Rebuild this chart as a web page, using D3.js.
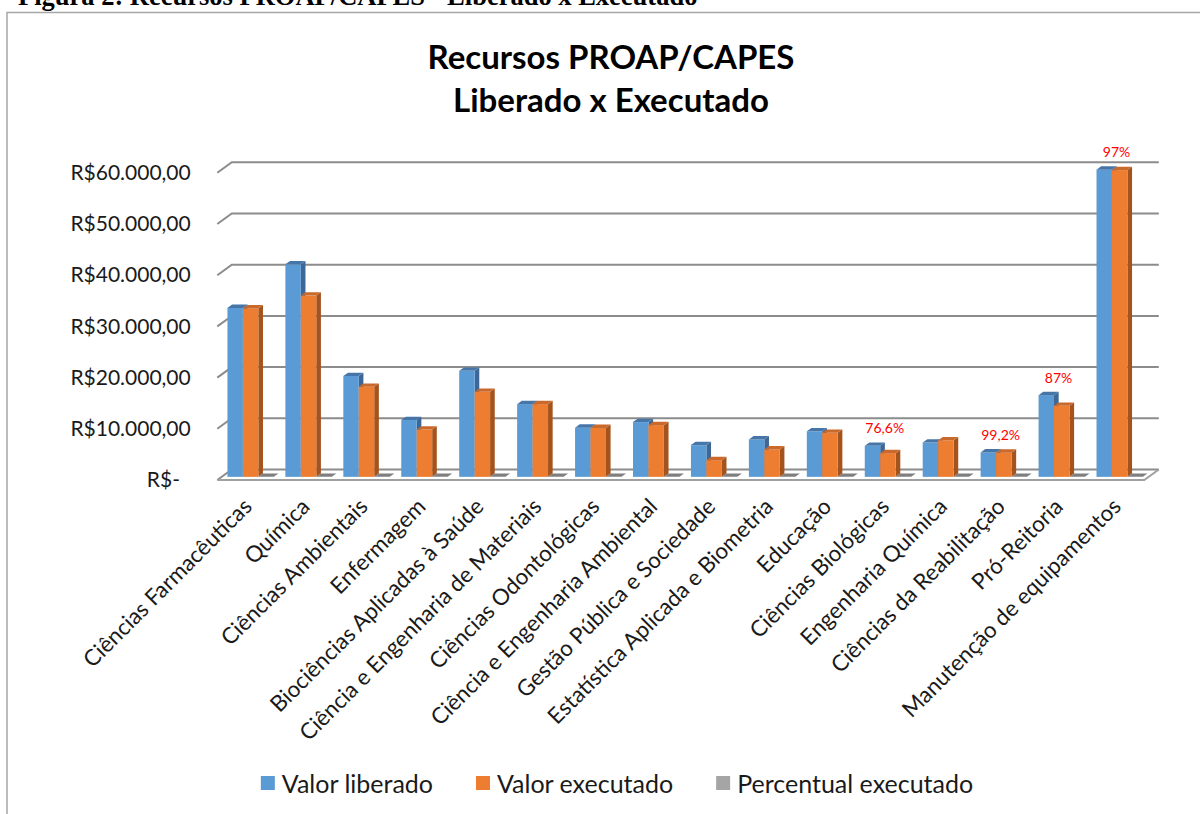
<!DOCTYPE html>
<html><head><meta charset="utf-8">
<script src="https://cdn.jsdelivr.net/npm/d3@7"></script>
<style>body{margin:0;background:#fff;overflow:hidden}</style>
</head><body><svg id="c" width="1200" height="814"></svg>
<script>
const categories = ["Ciências Farmacêuticas","Química","Ciências Ambientais","Enfermagem","Biociências Aplicadas à Saúde","Ciência e Engenharia de Materiais","Ciências Odontológicas","Ciência e Engenharia Ambiental","Gestão Pública e Sociedade","Estatística Aplicada e Biometria","Educação","Ciências Biológicas","Engenharia Química","Ciências da Reabilitação","Pró-Reitoria","Manutenção de equipamentos"];
const valorLiberado = [33000, 41500, 19700, 11100, 20700, 14200, 9600, 10700, 6200, 7300, 8900, 6050, 6700, 4760, 15960, 60000];
const valorExecutado = [32900, 35400, 17600, 9250, 16600, 14200, 9550, 10100, 3260, 5350, 8600, 4630, 7150, 4720, 13880, 59900];
const percentualExecutado = [1.0, 0.85, 0.89, 0.83, 0.80, 1.0, 1.0, 0.94, 0.53, 0.73, 0.97, 0.766, 1.07, 0.992, 0.87, 0.97];
const percentualRotulo = [null, null, null, null, null, null, null, null, null, null, null, "76,6%", null, "99,2%", "87%", "97%"];
const yTickValues = [0, 10000, 20000, 30000, 40000, 50000, 60000];
const seriesNames = ["Valor liberado", "Valor executado", "Percentual executado"];
const titleLines = ["Recursos PROAP/CAPES", "Liberado x Executado"];
const caption = "Figura 2: Recursos PROAP/CAPES - Liberado x Executado";

const svg = d3.select("#c");
const FONT = "Lato, 'Open Sans', sans-serif";
const colors = {
  front: ["#5b9bd5", "#ed7d31", "#a5a5a5"],
  top:   ["#4676a8", "#c9692c", "#7f7f7f"],
  side:  ["#3d6796", "#a4531d", "#6f6f6f"]
};

// outer frame
svg.append("path").attr("d", "M7,814 L7,12.5 L1200,12.5")
  .attr("fill", "none").attr("stroke", "#a6a6a6").attr("stroke-width", 1.5);

// caption (cut off at top, as in the source)
svg.append("text").attr("x", 18).attr("y", 5)
  .attr("font-family", "'Liberation Serif', 'Times New Roman', serif")
  .attr("font-weight", "bold").attr("font-size", 26.5).attr("fill", "#000")
  .text(caption);

// title
svg.append("g").selectAll("text").data(titleLines).join("text")
  .attr("x", 611).attr("y", (d, i) => 69 + i * 43)
  .attr("text-anchor", "middle").attr("font-family", FONT)
  .attr("font-weight", "bold").attr("font-size", 33).attr("fill", "#000")
  .text(d => d);

// geometry of the 3D plot
const floorFrontY = 480;
const DX = 14.5, DY = -10.5;
const xLeft = 217.3, xRight = 1144.3;
const x = d3.scaleBand().domain(categories).range([xLeft, xRight]);
const y = d3.scaleLinear().domain([0, 60000]).range([floorFrontY, floorFrontY - 307.2]);

// gridlines on back wall with left diagonal
const grid = svg.append("g").attr("fill", "none").attr("stroke", "#8c8c8c").attr("stroke-width", 2);
grid.selectAll("path").data(yTickValues).join("path")
  .attr("d", v => `M${xLeft},${y(v)} l${DX},${DY} L${xRight + DX},${y(v) + DY}`);
grid.append("path").attr("stroke", "#a0a0a0")
  .attr("d", `M${xLeft},${y(0)} L${xRight},${y(0)} l${DX},${DY}`);

// y axis labels
const loc = d3.formatLocale({decimal: ",", thousands: ".", grouping: [3], currency: ["R$", ""]});
const money = loc.format("$,.2f");
const yAxis = svg.append("g").attr("transform", `translate(${xLeft},0)`)
  .call(d3.axisLeft(y).tickValues(yTickValues).tickSize(0).tickPadding(26.6)
    .tickFormat(d => d === 0 ? "R$-" : money(d)));
yAxis.select(".domain").remove();
yAxis.selectAll("text").attr("font-family", FONT).attr("font-size", 21).attr("fill", "#1a1a1a")
  .attr("dx", d => d === 0 ? -10.7 : 0);

// bars
const barW = 15.45, bf = 0.3, bd = 0.32;
const ddx = DX * bd, ddy = DY * bd;
const seriesVals = [valorLiberado, valorExecutado, percentualExecutado.map(() => 0)];
const groupStart = c => x(c) + (x.bandwidth() - 3 * barW) / 2 + DX * bf;
const baseY = y(0) + DY * bf;
const topY = v => y(v) + DY * bf;

const bars = svg.append("g");
categories.forEach((c, ci) => {
  const g = bars.append("g");
  [0, 1, 2].forEach(s => {
    const v = seriesVals[s][ci];
    const bx = groupStart(c) + s * barW;
    const yt = topY(v), yb = baseY;
    g.append("path").attr("fill", colors.side[s])
      .attr("d", `M${bx + barW},${yt} l${ddx},${ddy} L${bx + barW + ddx},${yb + ddy} L${bx + barW},${yb}Z`);
    if (yb - yt > 0.1) {
      g.append("rect").attr("x", bx).attr("y", yt).attr("width", barW).attr("height", yb - yt)
        .attr("fill", colors.front[s]);
    }
    g.append("path").attr("fill", colors.top[s])
      .attr("d", `M${bx},${yt} L${bx + barW},${yt} l${ddx},${ddy} L${bx + ddx},${yt + ddy}Z`);
  });
});

// percent labels
svg.append("g").selectAll("text")
  .data(categories.map((c, i) => ({c, i, t: percentualRotulo[i]})).filter(d => d.t))
  .join("text")
  .attr("x", d => groupStart(d.c) + 20)
  .attr("y", d => topY(Math.max(valorLiberado[d.i], valorExecutado[d.i])) - 18)
  .attr("dominant-baseline", "central").attr("text-anchor", "middle")
  .attr("font-family", FONT).attr("font-size", 14).attr("fill", "#ff0000")
  .text(d => d.t);

// x labels
svg.append("g").selectAll("text").data(categories).join("text")
  .attr("transform", c => `translate(${x(c) + x.bandwidth() / 2 + 7},508) rotate(-45)`)
  .attr("text-anchor", "end").attr("font-family", FONT).attr("font-size", 22.4).attr("fill", "#1a1a1a")
  .text(c => c);

// legend
const lg = svg.append("g");
let lx = 0;
seriesNames.forEach((n, i) => {
  const it = lg.append("g");
  it.append("rect").attr("x", 0).attr("y", -7).attr("width", 14).attr("height", 14).attr("fill", colors.front[i]);
  const t = it.append("text").attr("x", 21).attr("y", 0).attr("dominant-baseline", "central")
    .attr("font-family", FONT).attr("font-size", 25).attr("fill", "#1a1a1a").text(n);
  const w = 21 + t.node().getComputedTextLength();
  it.attr("transform", `translate(${lx},0)`);
  lx += w + 43;
});
const totalW = lx - 43;
lg.attr("transform", `translate(${617 - totalW / 2},783)`);
</script></body></html>
